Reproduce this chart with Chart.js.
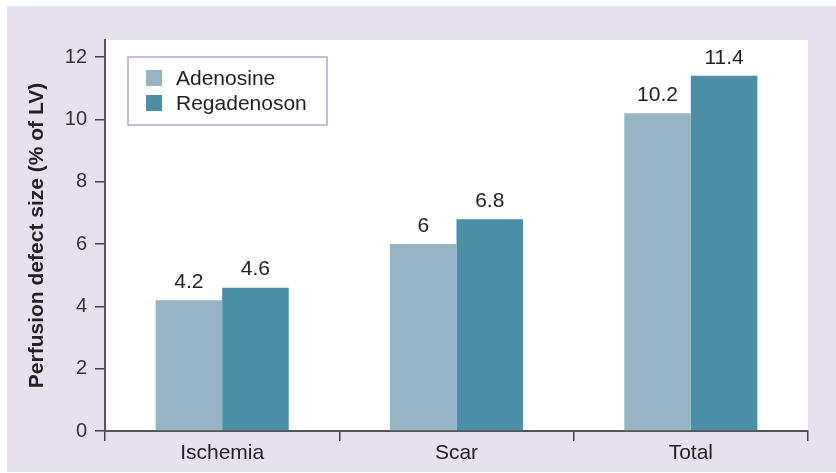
<!DOCTYPE html>
<html>
<head>
<meta charset="utf-8">
<script src="https://cdn.jsdelivr.net/npm/chart.js@4/dist/chart.umd.min.js"></script>
<style>
  html, body { margin: 0; padding: 0; background: #ffffff; }
  #wrap { width: 836px; height: 473px; }
</style>
</head>
<body>
<div id="wrap"><canvas id="perfChart" width="836" height="473"></canvas></div>
<script>
// data
var categories = ['Ischemia', 'Scar', 'Total'];
var adenosine = [4.2, 6, 10.2];
var regadenoson = [4.6, 6.8, 11.4];
var yTicks = [0, 2, 4, 6, 8, 10, 12];
var seriesNames = ['Adenosine', 'Regadenoson'];

var FONT = '"Liberation Sans", Arial, sans-serif';
var colAdeno = '#97b4c4';
var colRegad = '#4b8fa6';

// background: lavender frame with white plot area
var backdrop = {
	id: 'backdrop',
	beforeDraw: function(chart) {
		var c = chart.ctx, a = chart.chartArea;
		c.save();
		c.fillStyle = '#ffffff';
		c.fillRect(0, 0, chart.width, chart.height);
		c.fillStyle = '#e6e0ef';
		c.fillRect(7, 6, chart.width - 7, chart.height - 7);
		c.fillStyle = '#ffffff';
		c.fillRect(a.left, a.top, a.right - a.left, a.bottom - a.top);
		c.restore();
	}
};

// value labels above the bars
var valueLabels = {
	id: 'valueLabels',
	afterDatasetsDraw: function(chart) {
		var c = chart.ctx;
		c.save();
		c.font = '21px ' + FONT;
		c.fillStyle = '#222222';
		c.textAlign = 'center';
		c.textBaseline = 'middle';
		chart.data.datasets.forEach(function(ds, i) {
			chart.getDatasetMeta(i).data.forEach(function(bar, j) {
				c.fillText(String(ds.data[j]), bar.x, bar.y - 18);
			});
		});
		c.restore();
	}
};

// boxed legend inside the plot
var boxLegend = {
	id: 'boxLegend',
	afterDraw: function(chart) {
		var c = chart.ctx;
		c.save();
		c.fillStyle = '#ffffff';
		c.fillRect(128, 57, 199, 68);
		c.strokeStyle = '#b9a3d3';
		c.lineWidth = 1.5;
		c.strokeRect(128, 57, 199, 68);
		c.font = '21px ' + FONT;
		c.textBaseline = 'middle';
		var cols = [colAdeno, colRegad];
		for (var i = 0; i < seriesNames.length; i++) {
			var y = 78 + i * 25;
			c.fillStyle = cols[i];
			c.fillRect(146, y - 8, 16, 16);
			c.fillStyle = '#222222';
			c.fillText(seriesNames[i], 176, y + 1);
		}
		c.restore();
	}
};

var ctx = document.getElementById('perfChart').getContext('2d');
new Chart(ctx, {
	type: 'bar',
	data: {
		labels: categories,
		datasets: [{
			label: seriesNames[0],
			data: adenosine,
			backgroundColor: colAdeno
		}, {
			label: seriesNames[1],
			data: regadenoson,
			backgroundColor: colRegad
		}]
	},
	options: {
		responsive: false,
		animation: false,
		layout: { padding: { top: 40, right: 28, bottom: 0, left: 0 } },
		categoryPercentage: 0.568,
		barPercentage: 1.0,
		plugins: {
			legend: { display: false },
			tooltip: { enabled: false }
		},
		scales: {
			x: {
				grid: { offset: true, drawOnChartArea: false, drawTicks: true, tickLength: 10, color: '#444444', lineWidth: 1.5 },
				border: { display: true, color: '#555555', width: 2 },
				ticks: { color: '#222222', font: { family: FONT, size: 21 }, padding: 0 },
				afterFit: function(s) { s.height = 42; }
			},
			y: {
				min: 0,
				max: 12.55,
				afterBuildTicks: function(s) {
					s.ticks = yTicks.map(function(v) { return { value: v }; });
				},
				grid: { drawOnChartArea: false, drawTicks: true, tickLength: 10, color: '#444444', lineWidth: 1.5 },
				border: { display: true, color: '#555555', width: 2 },
				ticks: { color: '#333333', font: { family: FONT, size: 20 }, padding: 8 },
				title: {
					display: true,
					text: 'Perfusion defect size (% of LV)',
					color: '#222222',
					font: { family: FONT, size: 21, weight: 'bold' },
					padding: { top: 25, bottom: 0 }
				},
				afterFit: function(s) { s.width = 105; }
			}
		}
	},
	plugins: [backdrop, valueLabels, boxLegend]
});
</script>
</body>
</html>
